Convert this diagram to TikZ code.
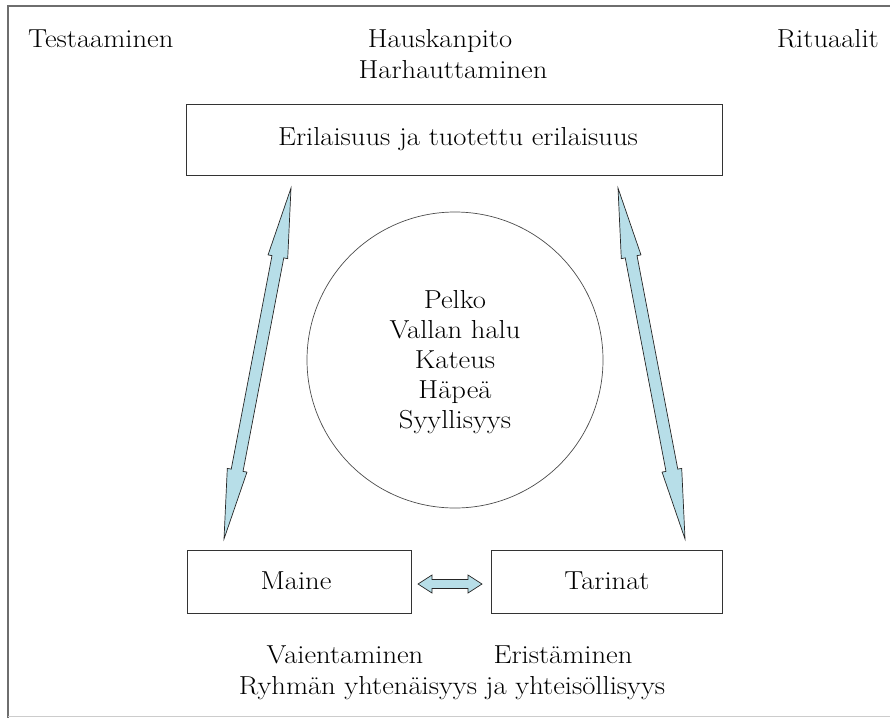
\documentclass[tikz,border=0pt]{standalone}
\usepackage{fontspec}
\setmainfont{Latin Modern Roman}[FakeStretch=1.1]
\usetikzlibrary{calc}
\definecolor{arrowfill}{RGB}{183,222,232}
\definecolor{framegray}{RGB}{110,110,110}
\tikzset{
  txt/.style={font=\fontsize{26}{30}\selectfont, inner sep=0pt},
  boxnode/.style={draw=black!80, line width=0.9pt, rectangle, inner sep=0pt},
  fatarrow/.style={draw=black!85, line width=0.7pt, fill=arrowfill, line join=miter},
}
\newcommand\fatdarrow[5]{%
  \draw[fatarrow] (#1) -- ($(#1)!#3!(#2)!#4!90:(#2)$) -- ($(#1)!#3!(#2)!#5!90:(#2)$)
    -- ($(#2)!#3!(#1)!#5!-90:(#1)$) -- ($(#2)!#3!(#1)!#4!-90:(#1)$) -- (#2)
    -- ($(#2)!#3!(#1)!#4!90:(#1)$) -- ($(#2)!#3!(#1)!#5!90:(#1)$)
    -- ($(#1)!#3!(#2)!#5!-90:(#2)$) -- ($(#1)!#3!(#2)!#4!-90:(#2)$) -- cycle;}
\begin{document}
\begin{tikzpicture}[x=1pt,y=-1pt]
\useasboundingbox (0,0) rectangle (890,718);
\draw[framegray, line width=1.5pt] (890,6) -- (8,6) -- (8,718);
\draw[black!20, line width=1pt] (8,716) -- (890,716);

\node[txt, anchor=base west] (test) at (28,47) {Testaaminen};
\node[txt, anchor=base] (hausk) at (440,47) {Hauskanpito};
\node[txt, anchor=base] (harh) at (453,78) {Harhauttaminen};
\node[txt, anchor=base east] (rit) at (879,47) {Rituaalit};

\node[boxnode, minimum width=536, minimum height=71] (eri) at (454,140) {};
\node[txt, anchor=base] (eritxt) at (458,145) {Erilaisuus ja tuotettu erilaisuus};

\node[draw=black!70, line width=0.7pt, circle, minimum size=296, inner sep=0pt] (circ) at (455,360) {};
\node[txt, align=center] (feel) at (455,362) {Pelko\\Vallan halu\\Kateus\\H\"ape\"a\\Syyllisyys};

\node[boxnode, minimum width=224, minimum height=63] (maine) at (299,581.5) {};
\node[txt] (mainetxt) at (296,581) {Maine};
\node[boxnode, minimum width=231, minimum height=63] (tarinat) at (606.5,581.5) {};
\node[txt] (tarinattxt) at (607,581) {Tarinat};

\coordinate (l1) at (291,188);
\coordinate (l2) at (224,539);
\coordinate (r1) at (618,188);
\coordinate (r2) at (685,539);
\coordinate (h1) at (418,584);
\coordinate (h2) at (482,584);
\fatdarrow{l1}{l2}{70pt}{10pt}{6pt}
\fatdarrow{r1}{r2}{70pt}{10pt}{6pt}
\fatdarrow{h1}{h2}{14pt}{9pt}{4.5pt}

\node[txt, anchor=base] (vai) at (345,663) {Vaientaminen};
\node[txt, anchor=base] (eris) at (563,663) {Erist\"aminen};
\node[txt, anchor=base] (ryh) at (452,694) {Ryhm\"an yhten\"aisyys ja yhteis\"ollisyys};
\end{tikzpicture}
\end{document}
